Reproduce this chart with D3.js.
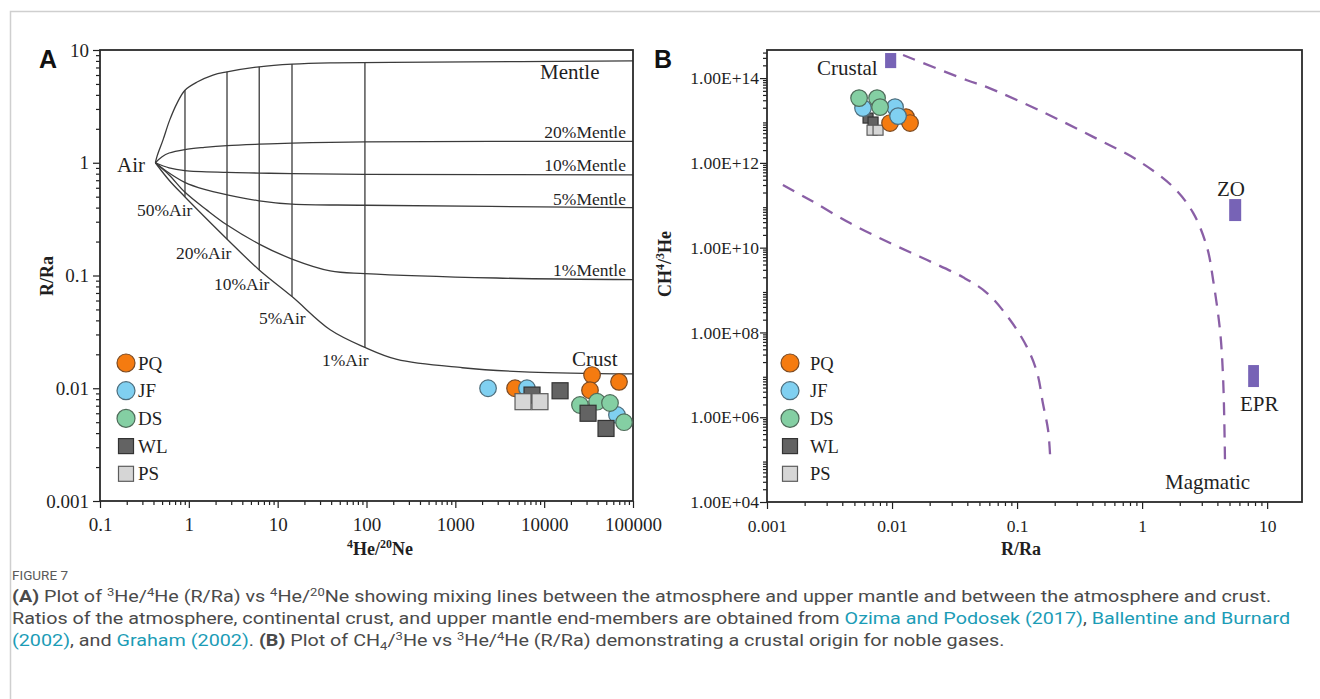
<!DOCTYPE html>
<html>
<head>
<meta charset="utf-8">
<script src="https://cdn.jsdelivr.net/npm/d3@7"></script>
<style>
  body { margin: 0; background: #fff; }
  svg { display: block; }
</style>
</head>
<body>
<svg id="fig" width="1320" height="699"></svg>
<script>
// ---------- data ----------
const categories = ["PQ", "JF", "DS", "WL", "PS"];

// Panel A: [4He/20Ne, R/Ra]
const PQ_A = [[4700, 0.0100], [34600, 0.0131], [69600, 0.0114], [32800, 0.0096]];
const JF_A = [[2335, 0.0100], [6400, 0.0100], [66000, 0.0058]];
const DS_A = [[25300, 0.0071], [39400, 0.0076], [55100, 0.0074], [79300, 0.0050]];
const WL_A = [[7300, 0.0087], [15100, 0.0095], [31200, 0.0060], [49700, 0.0044]];
const PS_A = [[5780, 0.0076], [8970, 0.0076]];

// Panel A mixing curves: [4He/20Ne, R/Ra]
const mantleCurve = [[0.42, 1.0], [0.44, 1.15], [0.51, 1.58], [0.61, 2.4], [0.74, 3.4], [0.905, 4.4], [1.24, 5.2], [1.87, 6.0], [2.69, 6.4], [6.2, 7.1], [14.5, 7.5], [39, 7.7], [520, 7.8], [100000, 8.0]];
const mantle20 = [[0.42, 1.0], [0.5, 1.13], [0.6, 1.22], [0.9, 1.31], [1.5, 1.37], [2.7, 1.42], [6.2, 1.46], [14.5, 1.49], [96, 1.53], [100000, 1.55]];
const mantle10 = [[0.42, 1.0], [0.6, 0.9], [0.9, 0.85], [2.7, 0.82], [6.2, 0.81], [14.5, 0.8], [96, 0.79], [100000, 0.78]];
const mantle5 = [[0.42, 1.0], [0.55, 0.85], [0.9, 0.67], [1.5, 0.58], [2.7, 0.52], [6.2, 0.46], [14.5, 0.43], [96, 0.42], [100000, 0.40]];
const mantle1 = [[0.42, 1.0], [0.6, 0.78], [0.9, 0.55], [1.6, 0.38], [2.7, 0.28], [6.2, 0.19], [14.5, 0.14], [39, 0.11], [96, 0.104], [2900, 0.095], [100000, 0.092]];
const crustCurve = [[0.42, 1.0], [0.6, 0.7], [0.9, 0.50], [2.7, 0.21], [6.2, 0.112], [14.5, 0.065], [39, 0.033], [96, 0.023], [220, 0.018], [1200, 0.0152], [6900, 0.0139], [100000, 0.0134]];

// Panel A tie lines (air fraction): position, top (mantle) and bottom (crust) R/Ra
const tieX = [0.905, 2.69, 6.2, 14.5, 96];
const tieTop = [4.4, 6.4, 7.1, 7.5, 7.8];
const tieBottom = [0.50, 0.21, 0.112, 0.065, 0.023];

// Panel A tick labels
const xTicksA = [0.1, 1, 10, 100, 1000, 10000, 100000];
const xTickLabelsA = ["0.1", "1", "10", "100", "1000", "10000", "100000"];
const yTicksA = [0.001, 0.01, 0.1, 1, 10];
const yTickLabelsA = ["0.001", "0.01", "0.1", "1", "10"];

// Panel B: [R/Ra, CH4/3He]
const PQ_B = [[0.00964, 8.7e12], [0.01294, 1.2e13], [0.01393, 8.7e12]];
const JF_B = [[0.00586, 1.96e13], [0.01057, 2.07e13], [0.01117, 1.27e13]];
const DS_B = [[0.00545, 3.37e13], [0.00759, 3.37e13], [0.00802, 2.07e13]];
const WL_B = [[0.00643, 1.14e13], [0.00705, 9.2e12]];
const PS_B = [[0.00692, 5.9e12], [0.00773, 5.9e12]];

// Panel B end-member fields
const endMembers = ["Crustal", "ZO", "EPR"];
const endMemberRR = [[0.0088, 0.0108], [4.97, 6.2], [7.05, 8.6]];
const endMemberCH = [[1.72e14, 3.9e14], [4.24e10, 1.4e11], [5.15e6, 1.7e7]];

// Panel B mixing envelopes
const outerBound = [[0.01225, 3.5e14], [0.0398, 8.9e13], [0.0575, 6.1e13], [0.161, 1.58e13], [0.406, 4.1e12], [0.912, 1.17e12], [1.77, 2.7e11], [2.56, 6.6e10], [3.31, 1.0e10], [3.7, 1.7e9], [4.2, 1.1e8], [4.45, 7.6e6], [4.6, 9.8e4]];
const innerBound = [[0.00134, 3.0e11], [0.00221, 1.33e11], [0.00461, 3.8e10], [0.00964, 1.29e10], [0.0191, 5.1e9], [0.037, 2.0e9], [0.0575, 8.5e8], [0.088, 1.96e8], [0.12, 4.5e7], [0.145, 1.1e7], [0.161, 2.1e6], [0.177, 5.0e5], [0.184, 1.15e5]];

// Panel B tick labels
const xTicksB = [0.001, 0.01, 0.1, 1, 10];
const xTickLabelsB = ["0.001", "0.01", "0.1", "1", "10"];
const yTicksB = [1e4, 1e6, 1e8, 1e10, 1e12, 1e14];
const yTickLabelsB = ["1.00E+04", "1.00E+06", "1.00E+08", "1.00E+10", "1.00E+12", "1.00E+14"];

// ---------- styles ----------
const serif = "'Liberation Serif', 'Times New Roman', serif";
const ink = "#1f1f1f";
const lineInk = "#3b3b3b";
const purple = "#8a5fa6";
const fieldFill = "#7763b6";
const markStyle = {
  PQ: { shape: "circle", fill: "#f57b10", stroke: "#7b4a22" },
  JF: { shape: "circle", fill: "#80d0f1", stroke: "#4d6d7c" },
  DS: { shape: "circle", fill: "#84cfa3", stroke: "#4f6c5a" },
  WL: { shape: "square", fill: "#636363", stroke: "#333333" },
  PS: { shape: "square", fill: "#d6d6d6", stroke: "#5c5c5c" }
};
const seriesA = { PQ: PQ_A, JF: JF_A, DS: DS_A, WL: WL_A, PS: PS_A };
const seriesB = { PQ: PQ_B, JF: JF_B, DS: DS_B, WL: WL_B, PS: PS_B };

const svg = d3.select("#fig");

// outer frame of the figure
svg.append("path")
  .attr("d", "M10.5,699 V11.5 H1320")
  .attr("fill", "none").attr("stroke", "#cfcfcf").attr("stroke-width", 1.5);

function minorTicks(lo, hi) {
  const out = [];
  for (let e = Math.floor(Math.log10(lo)); e < Math.ceil(Math.log10(hi)); e++) {
    for (let k = 2; k <= 9; k++) {
      const v = k * Math.pow(10, e);
      if (v > lo && v < hi) out.push(v);
    }
  }
  return out;
}

function styleAxis(g, size) {
  g.select(".domain").remove();
  g.selectAll("line").attr("stroke", ink).attr("stroke-width", 1.2);
  g.selectAll("text").attr("fill", ink).attr("font-family", serif).attr("font-size", size);
}

function drawAxes(x, y, o) {
  const [x0, x1] = x.range();
  const [y0, y1] = y.range();
  // minor ticks
  svg.append("g").attr("transform", `translate(0,${y0})`)
    .call(d3.axisBottom(x).tickValues(minorTicks(...x.domain())).tickSize(4).tickFormat(""))
    .call(g => styleAxis(g, o.tick));
  svg.append("g").attr("transform", `translate(${x0},0)`)
    .call(d3.axisLeft(y).tickValues(minorTicks(...y.domain())).tickSize(4).tickFormat(""))
    .call(g => styleAxis(g, o.tick));
  // major ticks
  svg.append("g").attr("transform", `translate(0,${y0})`)
    .call(d3.axisBottom(x).tickValues(o.xt).tickSize(7).tickPadding(o.xpad)
      .tickFormat((d, i) => o.xl[i]))
    .call(g => styleAxis(g, o.tick));
  svg.append("g").attr("transform", `translate(${x0},0)`)
    .call(d3.axisLeft(y).tickValues(o.yt).tickSize(7).tickPadding(o.ypad)
      .tickFormat((d, i) => o.yl[i]))
    .call(g => styleAxis(g, o.tick));
  // plot frame
  svg.append("rect")
    .attr("x", x0).attr("y", y1).attr("width", x1 - x0).attr("height", y0 - y1)
    .attr("fill", "none").attr("stroke", "#2a2a2a").attr("stroke-width", 1.8);
}

function label(txt, x, y, size, anchor) {
  return svg.append("text").attr("x", x).attr("y", y)
    .attr("font-family", serif).attr("font-size", size)
    .attr("fill", ink).attr("text-anchor", anchor || "start").text(txt);
}

// text made of runs with optional sup/sub/bold/link styling
function richText(parent, x, y, segs, o) {
  const t = parent.append("text").attr("x", x).attr("y", y)
    .attr("font-family", o.family).attr("font-size", o.size)
    .attr("fill", o.fill).attr("font-weight", o.weight || "normal");
  if (o.anchor) t.attr("text-anchor", o.anchor);
  let shift = 0;
  segs.forEach(s => {
    const ts = t.append("tspan").text(s.t);
    const target = s.sup ? -o.size * 0.38 : s.sub ? o.size * 0.22 : 0;
    if (target !== shift) { ts.attr("dy", target - shift); shift = target; }
    if (s.sup || s.sub) ts.attr("font-size", o.size * 0.66);
    if (s.b) ts.attr("font-weight", "bold");
    if (s.link) ts.attr("fill", o.link);
  });
  return t;
}

function drawMark(g, cat, cx, cy, r, sq) {
  const st = markStyle[cat];
  if (st.shape === "circle") {
    g.append("circle").attr("cx", cx).attr("cy", cy).attr("r", r)
      .attr("fill", st.fill).attr("stroke", st.stroke).attr("stroke-width", 1.2);
  } else {
    g.append("rect").attr("x", cx - sq / 2).attr("y", cy - sq / 2)
      .attr("width", sq).attr("height", sq)
      .attr("fill", st.fill).attr("stroke", st.stroke).attr("stroke-width", 1.2);
  }
}

// ================= Panel A =================
const xA = d3.scaleLog().domain([0.1, 100000]).range([100, 633]);
const yA = d3.scaleLog().domain([0.001, 10]).range([501, 50]);

const lineA = d3.line().x(d => xA(d[0])).y(d => yA(d[1])).curve(d3.curveCatmullRom.alpha(0.5));
const gA = svg.append("g");
[mantleCurve, mantle20, mantle10, mantle5, mantle1, crustCurve].forEach(c => {
  gA.append("path").attr("d", lineA(c)).attr("fill", "none")
    .attr("stroke", lineInk).attr("stroke-width", 1.3);
});
tieX.forEach((v, i) => {
  gA.append("line")
    .attr("x1", xA(v)).attr("x2", xA(v))
    .attr("y1", yA(tieTop[i])).attr("y2", yA(tieBottom[i]))
    .attr("stroke", lineInk).attr("stroke-width", 1.3);
});

drawAxes(xA, yA, {
  xt: xTicksA, xl: xTickLabelsA, yt: yTicksA, yl: yTickLabelsA,
  tick: 19, xpad: 10, ypad: 4
});

// curve annotations
label("Mentle", 540, 79, 21);
label("20%Mentle", 626, 138, 17.5, "end");
label("10%Mentle", 626, 171, 17.5, "end");
label("5%Mentle", 626, 205, 17.5, "end");
label("1%Mentle", 626, 276, 17.5, "end");
label("Air", 117, 172, 21);
label("50%Air", 137, 216, 17.5);
label("20%Air", 176, 259, 17.5);
label("10%Air", 214, 290, 17.5);
label("5%Air", 259, 324, 17.5);
label("1%Air", 322, 366, 17.5);
label("Crust", 572, 366, 21);

// samples
const ptsA = svg.append("g");
["PQ", "JF", "DS", "WL", "PS"].forEach(cat => {
  seriesA[cat].forEach(d => drawMark(ptsA, cat, xA(d[0]), yA(d[1]), 8.3, 16));
});

// legend
categories.forEach((cat, i) => {
  const cy = 363 + i * 27.7;
  drawMark(svg, cat, 126, cy, 9, 15);
  label(cat, 138, cy + 6.5, 19);
});

// axis titles
richText(svg, 380, 555, [{ t: "4", sup: true }, { t: "He/" }, { t: "20", sup: true }, { t: "Ne" }],
  { family: serif, size: 18, fill: ink, weight: "bold", anchor: "middle" });
svg.append("g").attr("transform", "translate(53,276) rotate(-90)")
  .call(g => richText(g, 0, 0, [{ t: "R/Ra" }],
    { family: serif, size: 18, fill: ink, weight: "bold", anchor: "middle" }));

// ================= Panel B =================
const xB = d3.scaleLog().domain([0.001, 19]).range([767, 1302]);
const yB = d3.scaleLog().domain([1e4, 4.6e14]).range([502, 50]);

const lineB = d3.line().x(d => xB(d[0])).y(d => yB(d[1])).curve(d3.curveCatmullRom.alpha(0.5));
[outerBound, innerBound].forEach(c => {
  svg.append("path").attr("d", lineB(c)).attr("fill", "none")
    .attr("stroke", purple).attr("stroke-width", 2.3)
    .attr("stroke-dasharray", "13,9");
});

drawAxes(xB, yB, {
  xt: xTicksB, xl: xTickLabelsB, yt: yTicksB, yl: yTickLabelsB,
  tick: 17.5, xpad: 11, ypad: 1
});

endMembers.forEach((n, i) => {
  const [a, b] = endMemberRR[i];
  const [lo, hi] = endMemberCH[i];
  svg.append("rect")
    .attr("x", xB(a)).attr("y", yB(hi))
    .attr("width", xB(b) - xB(a)).attr("height", yB(lo) - yB(hi))
    .attr("fill", fieldFill);
});
label("Crustal", 817, 75, 21);
label("ZO", 1217, 196, 21);
label("EPR", 1240, 411, 21);
label("Magmatic", 1165, 489, 21);

const ptsB = svg.append("g");
["WL", "PS"].forEach(cat => {
  seriesB[cat].forEach(d => drawMark(ptsB, cat, xB(d[0]), yB(d[1]), 8.3, 10));
});
["PQ", "JF", "DS"].forEach(cat => {
  seriesB[cat].forEach(d => drawMark(ptsB, cat, xB(d[0]), yB(d[1]), 8.3, 10));
});

categories.forEach((cat, i) => {
  const cy = 363 + i * 27.7;
  drawMark(svg, cat, 790, cy, 9, 15);
  label(cat, 810, cy + 6.5, 18.5);
});

richText(svg, 1021, 555, [{ t: "R/Ra" }],
  { family: serif, size: 18, fill: ink, weight: "bold", anchor: "middle" });
svg.append("g").attr("transform", "translate(671,264) rotate(-90)")
  .call(g => richText(g, 0, 0, [{ t: "CH" }, { t: "4", sup: true }, { t: "/" }, { t: "3", sup: true }, { t: "He" }],
    { family: serif, size: 18, fill: ink, weight: "bold", anchor: "middle" }));

// panel letters
svg.append("text").attr("x", 39).attr("y", 68).text("A")
  .attr("font-family", "'Liberation Sans', Arial, sans-serif").attr("font-weight", "bold")
  .attr("font-size", 25).attr("fill", "#111");
svg.append("text").attr("x", 654).attr("y", 68).text("B")
  .attr("font-family", "'Liberation Sans', Arial, sans-serif").attr("font-weight", "bold")
  .attr("font-size", 25).attr("fill", "#111");

// ================= caption =================
const capFont = "Roboto, 'Open Sans', sans-serif";
const capInk = "#4a4a4a";
const linkInk = "#1b9cb6";

svg.append("text").attr("x", 12).attr("y", 580).text("FIGURE 7")
  .attr("font-family", capFont).attr("font-size", 13.5).attr("fill", "#5a5a5a");

// caption body, condensed uniformly so the second line spans the text block
const capBody = svg.append("g");
const capOpts = { family: capFont, size: 16.5, fill: capInk, link: linkInk };
richText(capBody, 0, 602, [
  { t: "(A)", b: true }, { t: " Plot of " }, { t: "3", sup: true }, { t: "He/" }, { t: "4", sup: true },
  { t: "He (R/Ra) vs " }, { t: "4", sup: true }, { t: "He/" }, { t: "20", sup: true },
  { t: "Ne showing mixing lines between the atmosphere and upper mantle and between the atmosphere and crust." }
], capOpts);
const capLine2 = richText(capBody, 0, 624, [
  { t: "Ratios of the atmosphere, continental crust, and upper mantle end-members are obtained from " },
  { t: "Ozima and Podosek (2017)", link: true }, { t: ", " },
  { t: "Ballentine and Burnard", link: true }
], capOpts);
richText(capBody, 0, 646, [
  { t: "(2002)", link: true }, { t: ", and " }, { t: "Graham (2002)", link: true }, { t: ". " },
  { t: "(B)", b: true }, { t: " Plot of CH" }, { t: "4", sub: true }, { t: "/" }, { t: "3", sup: true },
  { t: "He vs " }, { t: "3", sup: true }, { t: "He/" }, { t: "4", sup: true },
  { t: "He (R/Ra) demonstrating a crustal origin for noble gases." }
], capOpts);
const natural = capLine2.node().getComputedTextLength();
const sx = 1279 / natural;
capBody.attr("transform", `translate(12,0) scale(${sx},1)`);
</script>
</body>
</html>
